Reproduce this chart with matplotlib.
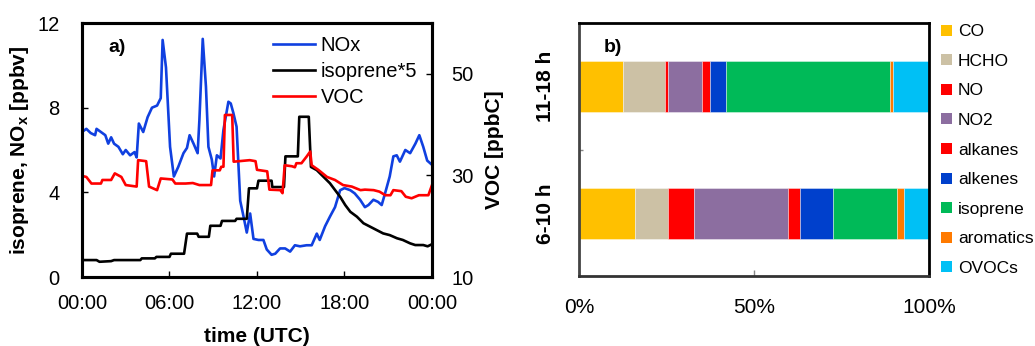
import numpy as np
import matplotlib.pyplot as plt
from matplotlib.patches import Patch

plt.rcParams["font.family"] = ["Liberation Sans", "DejaVu Sans"]
plt.rcParams["mathtext.fontset"] = "custom"
plt.rcParams["mathtext.rm"] = "Liberation Sans"
plt.rcParams["mathtext.bf"] = "Liberation Sans:bold"

# ---- panel a: diurnal time series (hours UTC) ----
nox_t = [0, 0.3, 0.6, 0.9, 1.0, 1.3, 1.6, 1.8, 2.0, 2.2, 2.5, 2.8, 3.0, 3.3, 3.6,
         3.75, 3.9, 4.2, 4.5, 4.8, 5.15, 5.4, 5.53, 5.76, 6.04, 6.3, 6.6, 6.96, 7.2,
         7.38, 7.65, 7.93, 8.05, 8.28, 8.5, 8.67, 8.9, 9.06, 9.25, 9.5, 9.7, 10.04,
         10.2, 10.38, 10.6, 10.85, 11.08, 11.3, 11.53, 11.76, 12.1, 12.44, 12.67, 13.0,
         13.25, 13.58, 13.93, 14.27, 14.6, 14.95, 15.4, 15.75, 16.1, 16.3, 16.67, 17.0,
         17.35, 17.7, 18.0, 18.4, 18.7, 19.07, 19.4, 19.64, 19.98, 20.3, 20.55, 20.78,
         21.1, 21.35, 21.58, 21.8, 22.17, 22.5, 22.86, 23.13, 23.4, 23.67, 24.0]
nox = [6.85, 7.0, 6.8, 6.7, 7.0, 6.85, 6.7, 6.3, 6.6, 6.3, 6.15, 5.8, 6.0, 5.75, 5.9,
       5.65, 7.25, 6.85, 7.55, 8.0, 8.1, 8.45, 11.2, 9.9, 6.15, 4.75, 5.2, 5.85, 6.1,
       6.7, 6.3, 5.85, 7.4, 11.25, 9.0, 6.15, 5.55, 4.75, 5.75, 5.6, 6.95, 8.28,
       8.2, 7.75, 7.1, 3.6, 2.85, 2.1, 3.0, 1.8, 1.75, 1.75, 1.3, 1.05,
       1.1, 1.35, 1.35, 1.2, 1.5, 1.45, 1.5, 1.5, 2.05, 1.75, 2.4, 2.85,
       3.3, 4.1, 4.2, 4.1, 3.95, 3.65, 3.3, 3.4, 3.65, 3.55, 3.4, 3.95,
       4.75, 5.7, 5.75, 5.45, 6.0, 5.85, 6.3, 6.7, 6.15, 5.5, 5.3]

iso_t = [0, 1.0, 1.2, 2.0, 2.2, 4.0, 4.1, 5.0, 5.1, 6.0, 6.1, 7.0, 7.2, 7.9, 8.0,
         8.7, 8.8, 9.5, 9.6, 10.5, 10.6, 11.3, 11.45, 12.0, 12.1, 13.0, 13.05, 13.85,
         13.95, 14.8, 14.9, 15.55, 15.7, 16.1, 16.55, 17.0, 17.35, 17.7, 18.05, 18.4,
         18.85, 19.3, 19.75, 20.2, 20.65, 21.1, 21.6, 22.0, 22.5, 22.85, 23.4, 23.7, 24.0]
iso5 = [0.8, 0.8, 0.72, 0.75, 0.8, 0.8, 0.88, 0.88, 0.95, 0.95, 1.1, 1.1, 2.05, 2.05, 1.9,
        1.9, 2.42, 2.42, 2.65, 2.65, 2.75, 2.75, 4.19, 4.19, 4.55, 4.55, 4.25, 4.25,
        5.7, 5.7, 7.57, 7.57, 5.2, 5.05, 4.74, 4.43, 4.11, 3.79, 3.4, 3.08,
        2.85, 2.54, 2.38, 2.22, 2.06, 1.98, 1.83, 1.75, 1.59, 1.51, 1.51, 1.45, 1.55]

voc_t = [0, 0.3, 0.65, 1.3, 1.4, 2.0, 2.25, 2.7, 3.0, 3.75, 3.85, 4.4, 4.6, 5.15, 5.4,
         6.2, 6.4, 7.1, 7.6, 8.05, 8.85, 8.95, 9.45, 9.55, 9.7, 9.8, 10.3, 10.4, 11.5,
         11.9, 12.0, 12.7, 12.85, 13.6, 13.75, 13.9, 14.4, 14.6, 14.7, 15.05, 15.4,
         15.65, 15.75, 16.2, 16.8, 17.35, 17.9, 18.5, 19.1, 19.4, 20.0, 20.4, 20.8,
         21.15, 21.35, 21.9, 22.2, 22.6, 23.1, 23.75, 24.0]
voc = [29.9, 29.7, 28.4, 28.4, 29.1, 29.1, 30.4, 29.7, 28.1, 27.8, 33.0, 32.8, 27.8, 27.1, 29.4,
       29.2, 28.4, 28.4, 28.5, 28.1, 28.1, 31.0, 31.0, 31.7, 31.7, 41.9, 41.9, 32.7, 33.0,
       32.8, 31.1, 30.8, 27.2, 27.1, 26.5, 32.0, 31.8, 31.6, 32.4, 32.4, 33.7,
       34.7, 32.0, 31.1, 29.7, 29.1, 28.1, 27.8, 27.1, 27.2, 27.1, 26.8, 26.1,
       26.1, 27.1, 26.9, 25.8, 25.5, 26.1, 26.1, 28.1]

time_ticks = [0, 6, 12, 18, 24]
time_labels = ["00:00", "06:00", "12:00", "18:00", "00:00"]

# ---- panel b: relative contributions (%) ----
periods = ["6-10 h", "11-18 h"]
species = ["CO", "HCHO", "NO", "NO2", "alkanes", "alkenes", "isoprene", "aromatics", "OVOCs"]
share_6_10 = [16.0, 9.5, 7.4, 26.7, 3.5, 9.5, 18.3, 1.9, 7.2]
share_11_18 = [12.7, 11.9, 0.9, 9.6, 2.2, 4.8, 46.7, 1.0, 10.2]
colors = ["#FFC000", "#CCC1A5", "#FF0000", "#8C6EA0", "#FF0000", "#0040CC",
          "#00BA58", "#FF7A00", "#00C0F5"]

fig = plt.figure(figsize=(10.35, 3.46), dpi=100)

ax = fig.add_axes([0.0792, 0.1994, 0.3382, 0.7341])
l1, = ax.plot(nox_t, nox, color="#1040E0", lw=1.9, label="NOx")
l2, = ax.plot(iso_t, iso5, color="black", lw=1.9, label="isoprene*5")
ax.set_xlim(0, 24)
ax.set_ylim(0, 12)
ax.set_xticks(time_ticks)
ax.set_xticklabels(time_labels)
ax.set_yticks([0, 4, 8, 12])
ax.tick_params(axis="x", direction="in", length=4, width=1, labelsize=14.5, pad=12)
ax.tick_params(axis="y", direction="in", length=4, width=1, labelsize=14.5, pad=16)
ax.set_xlabel("time (UTC)", fontsize=15, fontweight="bold")
ax.set_ylabel(r"isoprene, NO$_\mathbf{x}$ [ppbv]", fontsize=15, fontweight="bold")
ax.xaxis.set_label_coords(0.5, -0.195)
ax.yaxis.set_label_coords(-0.145, 0.5)
for s in ax.spines.values():
    s.set_linewidth(2.2)

ax2 = ax.twinx()
l3, = ax2.plot(voc_t, voc, color="#FF0000", lw=1.9, label="VOC")
ax2.set_ylim(10, 60)
ax2.set_yticks([10, 30, 50])
ax2.tick_params(axis="y", direction="in", length=4, width=1, labelsize=14.5, pad=14)
ax2.set_ylabel("VOC [ppbC]", fontsize=15, fontweight="bold")
ax2.yaxis.set_label_coords(1.152, 0.5)
for s in ax2.spines.values():
    s.set_linewidth(2.2)

ax.legend(handles=[l1, l2, l3], loc="upper left", bbox_to_anchor=(0.546, 0.95),
          frameon=False, fontsize=14.5, handlelength=2.1, handletextpad=0.25,
          labelspacing=0.36, borderpad=0, borderaxespad=0)
ax.text(0.1, 0.905, "a)", transform=ax.transAxes, fontsize=14, fontweight="bold",
        va="center", ha="center")

# ---- panel b ----
bx = fig.add_axes([0.5594, 0.2023, 0.3382, 0.7312])
ypos = np.arange(len(periods))
data = np.array([share_6_10, share_11_18])
left = np.zeros(len(periods))
for i, name in enumerate(species):
    bx.barh(ypos, data[:, i], left=left, height=0.4, color=colors[i], label=name,
            edgecolor=(1, 1, 1, 0.45), linewidth=0.6)
    left += data[:, i]
bx.set_xlim(0, 100)
bx.set_ylim(-0.49, 1.5)
bx.set_xticks([0, 50, 100])
bx.set_xticklabels(["0%", "50%", "100%"])
bx.set_yticks(ypos)
bx.set_yticklabels(periods, rotation=90, va="center", fontweight="bold")
bx.set_yticks([0.5], minor=True)
bx.tick_params(axis="x", direction="in", length=4, width=1, color="#888888",
               labelsize=15, pad=16)
bx.tick_params(axis="y", which="major", length=0, labelsize=15, pad=17)
bx.tick_params(axis="y", which="minor", direction="in", length=3, width=1,
               color="#888888")
for s in bx.spines.values():
    s.set_linewidth(2.0)
bx.spines["left"].set_color("#444444")
bx.spines["bottom"].set_color("#333333")
bx.text(0.097, 0.905, "b)", transform=bx.transAxes, fontsize=14, fontweight="bold",
        va="center", ha="center")

handles = [Patch(facecolor=c, edgecolor="none") for c in colors]
bx.legend(handles, species, loc="upper left", bbox_to_anchor=(1.035, 0.995),
          frameon=False, fontsize=12.5, handlelength=0.6, handleheight=0.6,
          handletextpad=0.35, labelspacing=0.84, borderpad=0, borderaxespad=0)

fig.savefig("out.png", dpi=100)
